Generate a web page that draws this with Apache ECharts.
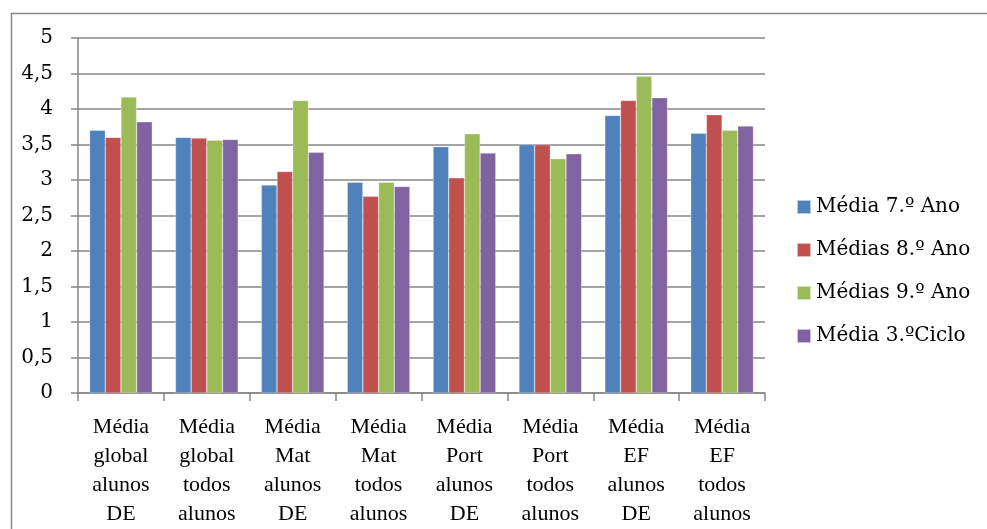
<!DOCTYPE html>
<html>
<head>
<meta charset="utf-8">
<script src="https://cdn.jsdelivr.net/npm/echarts@6/dist/echarts.min.js"></script>
<style>
html,body{margin:0;padding:0;background:#fff;}
#c{width:987px;height:529px;}
</style>
</head>
<body>
<div id="c"></div>
<script>
var categories = [
  'Média\nglobal\nalunos\nDE',
  'Média\nglobal\ntodos\nalunos',
  'Média\nMat\nalunos\nDE',
  'Média\nMat\ntodos\nalunos',
  'Média\nPort\nalunos\nDE',
  'Média\nPort\ntodos\nalunos',
  'Média\nEF\nalunos\nDE',
  'Média\nEF\ntodos\nalunos'
];
var seriesNames = ['Média 7.º Ano', 'Médias 8.º Ano', 'Médias 9.º Ano', 'Média 3.ºCiclo'];
var media7 = [3.70, 3.60, 2.93, 2.97, 3.47, 3.50, 3.91, 3.66];
var media8 = [3.60, 3.59, 3.12, 2.77, 3.03, 3.50, 4.12, 3.92];
var media9 = [4.17, 3.56, 4.12, 2.97, 3.65, 3.30, 4.46, 3.70];
var mediaCiclo = [3.82, 3.57, 3.39, 2.91, 3.38, 3.37, 4.16, 3.76];
var colors = ['#4F81BD', '#C0504D', '#9BBB59', '#8064A2'];
var narrowSerif = '"Liberation Serif", "DejaVu Serif", serif';
var wideSerif = '"DejaVu Serif", "Liberation Serif", serif';

var chart = echarts.init(document.getElementById('c'));
var dataSets = [media7, media8, media9, mediaCiclo];
var series = dataSets.map(function (d, i) {
  return {
    name: seriesNames[i],
    type: 'bar',
    data: d,
    barGap: '0%',
    barCategoryGap: '27%',
    itemStyle: { color: colors[i], borderColor: 'rgba(255,255,255,0.6)', borderWidth: 0.5 },
    emphasis: { disabled: true }
  };
});

chart.setOption({
  animation: false,
  backgroundColor: '#fff',
  color: colors,
  grid: { left: 78, right: 222, top: 38, bottom: 134, containLabel: false },
  graphic: [{
    type: 'rect',
    left: 9, top: 11,
    shape: { width: 1000, height: 600 },
    style: { fill: 'none', stroke: '#8a8a8a', lineWidth: 1.5 },
    z: -1
  }],
  legend: {
    orient: 'vertical',
    left: 796,
    top: 197,
    padding: 0,
    itemWidth: 14,
    itemHeight: 14,
    itemGap: 23,
    itemTextGap: 6,
    icon: 'rect',
    textStyle: { fontFamily: wideSerif, fontSize: 20, lineHeight: 20, color: '#000' },
    data: seriesNames
  },
  xAxis: {
    type: 'category',
    data: categories,
    axisLine: { lineStyle: { color: '#868686', width: 1.5 } },
    axisTick: { show: true, length: 8, lineStyle: { color: '#868686', width: 1.5 } },
    axisLabel: {
      interval: 0,
      margin: 20,
      fontFamily: narrowSerif,
      fontSize: 22,
      lineHeight: 29,
      color: '#000',
      align: 'center'
    },
    splitLine: { show: false }
  },
  yAxis: {
    type: 'value',
    min: 0,
    max: 5,
    interval: 0.5,
    axisLine: { show: true, lineStyle: { color: '#868686', width: 1.5 } },
    axisTick: { show: true, length: 7, lineStyle: { color: '#868686', width: 1.5 } },
    axisLabel: {
      margin: 25,
      fontFamily: wideSerif,
      fontSize: 20,
      color: '#000',
      formatter: function (v) { return String(v).replace('.', ','); }
    },
    splitLine: { show: true, lineStyle: { color: '#868686', width: 1.5 } }
  },
  series: series
});
</script>
</body>
</html>
